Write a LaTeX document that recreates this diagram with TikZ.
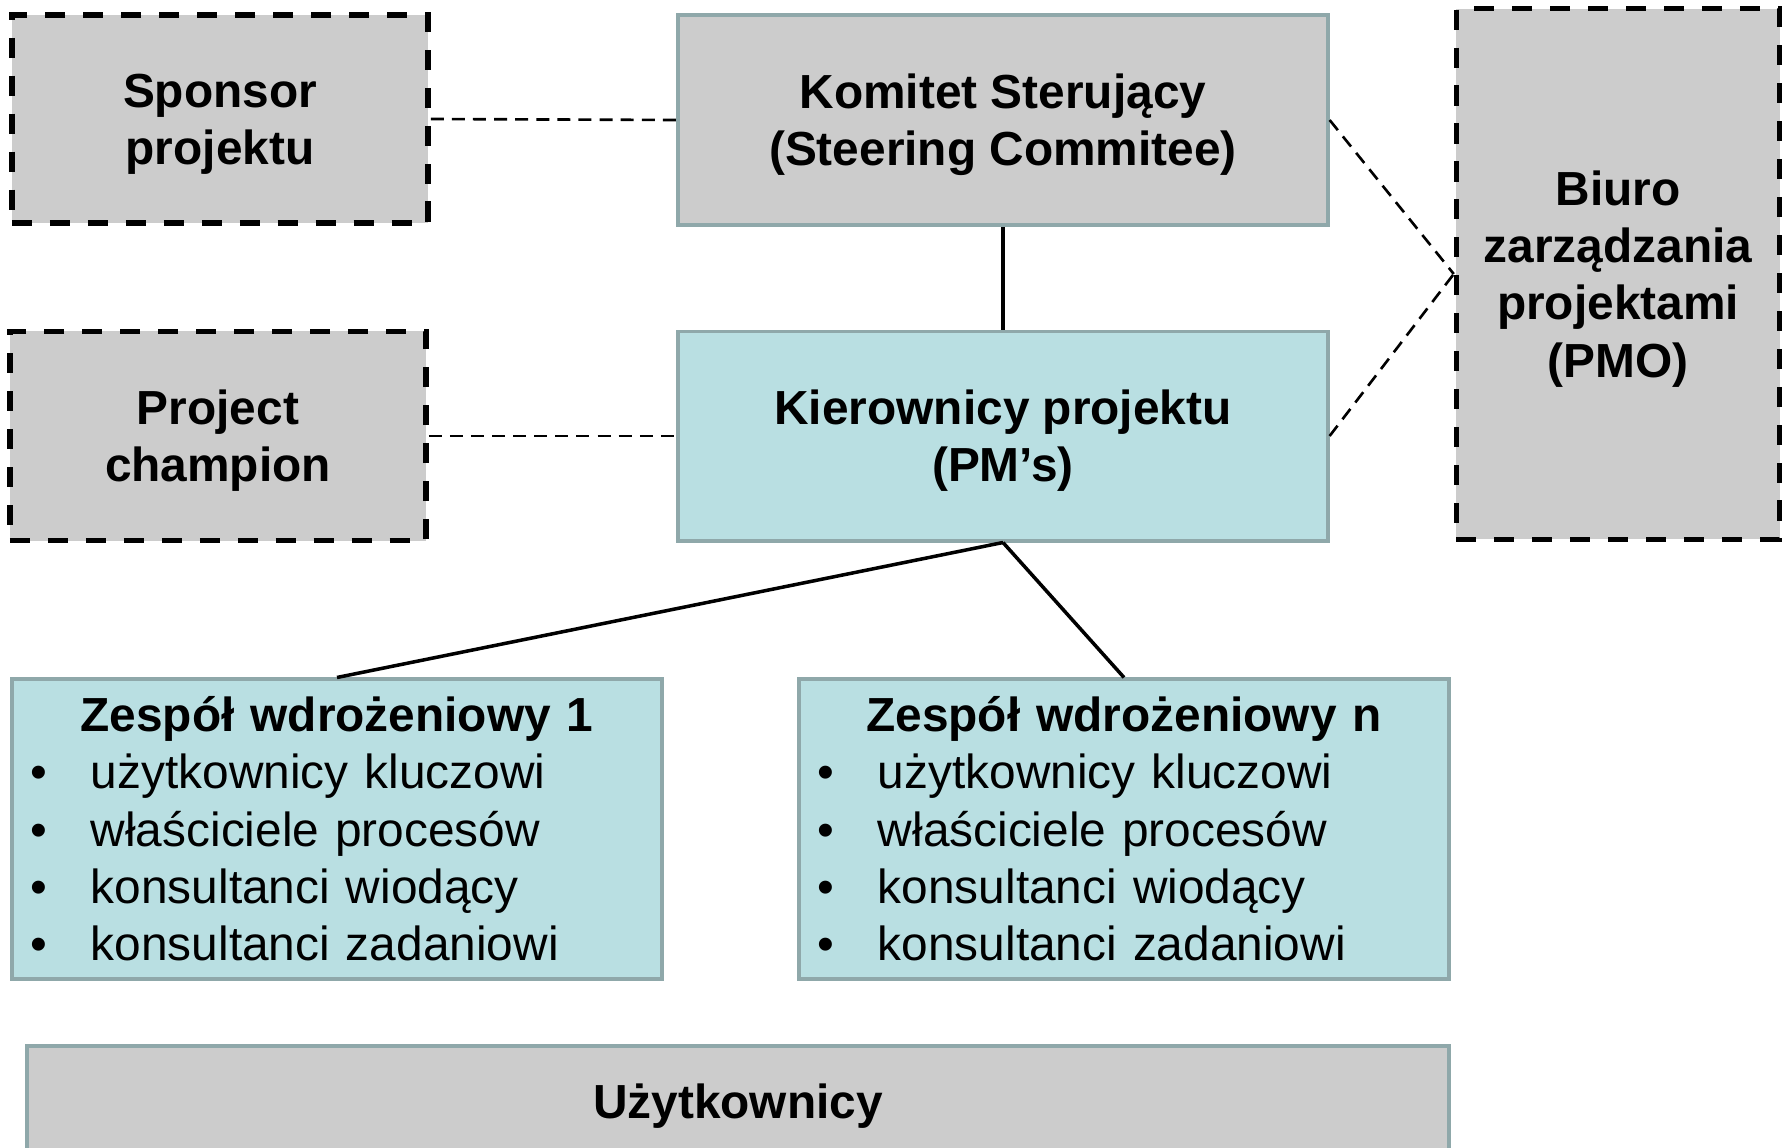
\documentclass[tikz,border=0pt]{standalone}
\usepackage{fontspec}
\setmainfont{Liberation Sans}
\usepackage{tikz}
\usetikzlibrary{positioning}
\definecolor{orggrey}{HTML}{CCCCCC}
\definecolor{orgblue}{HTML}{B9DFE2}
\definecolor{orgedge}{HTML}{8FA8AA}
\newcommand{\orgfont}{\linespread{1}\fontsize{13.6}{16.3}\selectfont}
\newcommand{\teamitem}[1]{\makebox[6.12cm][l]{\makebox[0.6cm][l]{\textbullet}#1}}
\tikzset{
    org/chart/.style={font=\orgfont, every node/.style={align=center}, x=0.01cm, y=-0.01cm},
    org/box/.style={rectangle, draw=orgedge, line width=1.1pt, inner sep=0pt, font=\orgfont\bfseries},
    org/grey/.style={org/box, fill=orggrey, text depth=0pt},
    org/blue/.style={org/box, fill=orgblue, text depth=0pt},
    org/dashedbox/.style={rectangle, draw=black, fill=orggrey, line width=1.5pt, dash pattern=on 5.7pt off 5.1pt, inner sep=0pt, text depth=0pt, font=\orgfont\bfseries},
    org/team/.style={org/box, fill=orgblue, font=\orgfont, text width=6.12cm, inner xsep=0.185cm, minimum height=2.99cm},
    org/link/.style={draw=black, line width=1pt},
    org/dotlink/.style={draw=black, line width=0.75pt, dash pattern=on 3.7pt off 2.3pt}
}
\begin{document}
\begin{tikzpicture}[org/chart]
    \useasboundingbox (0,0) rectangle (1787,1148);
    \clip (0,0) rectangle (1787,1148);
    \node[org/dashedbox, minimum width=4.16cm, minimum height=2.08cm] (sponsor) at (220,119) {Sponsor\\projektu};
    \node[org/grey, minimum width=6.49cm, minimum height=2.10cm] (komitet) at (1003,120) {Komitet Sterujący\\(Steering Commitee)};
    \node[org/dashedbox, minimum width=3.23cm, minimum height=5.30cm] (pmo) at (1618,274) {Biuro\\zarządzania\\projektami\\(PMO)};
    \node[org/dashedbox, minimum width=4.16cm, minimum height=2.09cm] (champion) at (218,436) {Project\\champion};
    \node[org/blue, minimum width=6.49cm, minimum height=2.09cm] (kierownicy) at (1003,436) {Kierownicy projektu\\(PM’s)};
    \node[org/team] (team1) at (337,829) {\textbf{Zespół wdrożeniowy 1}\\\teamitem{użytkownicy kluczowi}\\\teamitem{właściciele procesów}\\\teamitem{konsultanci wiodący}\\\teamitem{konsultanci zadaniowi}};
    \node[org/team] (teamn) at (1124,829) {\textbf{Zespół wdrożeniowy n}\\\teamitem{użytkownicy kluczowi}\\\teamitem{właściciele procesów}\\\teamitem{konsultanci wiodący}\\\teamitem{konsultanci zadaniowi}};
    \node[org/grey, minimum width=14.21cm, minimum height=1.10cm] (users) at (738,1101) {Użytkownicy};
    \draw[org/dotlink] (sponsor.east) -- (komitet.west);
    \draw[org/dotlink] (champion.east) -- (kierownicy.west);
    \draw[org/dotlink] (komitet.east) -- (pmo.west);
    \draw[org/dotlink] (kierownicy.east) -- (pmo.west);
    \draw[org/link] (komitet) -- (kierownicy);
    \foreach \target in {team1,teamn}
        \draw[org/link] (kierownicy.south) -- (\target.north);
\end{tikzpicture}
\end{document}
